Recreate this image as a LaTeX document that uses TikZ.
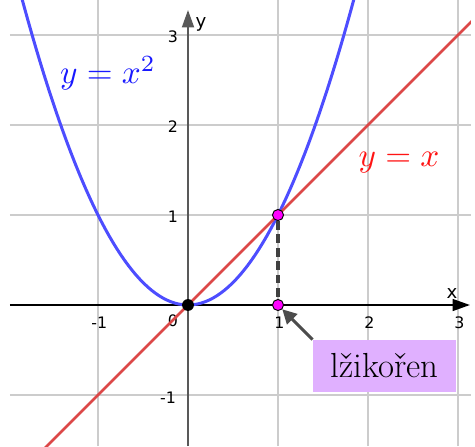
\documentclass[tikz,border=0pt]{standalone}
\usepackage{fontspec}
\usepackage{graphicx}
\usepackage{tikz}
\usetikzlibrary{positioning, arrows.meta}
\newfontfamily\ticksans{DejaVu Sans}
\definecolor{CurveBlue}{RGB}{77, 77, 255}
\definecolor{LineRed}{RGB}{220, 72, 72}
\definecolor{LabelBlue}{RGB}{25, 25, 255}
\definecolor{LabelRed}{RGB}{255, 20, 20}
\definecolor{GridGray}{RGB}{204, 204, 204}
\definecolor{NoteViolet}{RGB}{224, 176, 255}
\definecolor{PointMagenta}{RGB}{255, 0, 255}

\begin{document}
\begin{tikzpicture}[x=2cm, y=2cm,
      gridline/.style={GridGray, line width=0.9pt},
      axisline/.style={line width=1.1pt, -{Triangle[length=11pt, width=7.5pt]}},
      ticklbl/.style={font=\ticksans\fontsize{10}{11}\selectfont, inner sep=0pt},
      axislbl/.style={font=\ticksans\fontsize{11.5}{12}\selectfont, inner sep=0pt},
      curvelbl/.style={inner sep=0pt},
      magdot/.style={circle, draw=black, line width=0.6pt, fill=PointMagenta, minimum size=7pt, inner sep=0pt},
      origdot/.style={circle, fill=black, minimum size=7.5pt, inner sep=0pt},
      note/.style={rectangle, fill=NoteViolet, minimum width=3.18cm, minimum height=1.16cm,
      font=\fontsize{22}{24}\selectfont}
    ]
      \useasboundingbox (-2.0889,-1.5667) rectangle (3.1889,3.3889);
      \foreach \x in {-1,1,2,3} \draw[gridline] (\x,-1.5667) -- (\x,3.3889);
      \foreach \y in {-1,1,2,3} \draw[gridline] (-1.978,\y) -- (3.144,\y);

      \coordinate (xbeg) at (-1.978,0);
      \coordinate (xend) at (3.133,0);
      \coordinate (ybeg) at (0,-1.5667);
      \coordinate (yend) at (0,3.278);
      \draw[axisline, black] (xbeg) -- (xend);
      \draw[axisline, black!65, line width=1.4pt] (ybeg) -- (yend);

      \foreach \x in {-1,1,2,3} \node[ticklbl] (tx\x) at (\x+0.015,-0.2) {\x};
      \node[ticklbl] (t0) at (-0.167,-0.178) {0};
      \foreach \y in {1,2,3} \node[ticklbl] (ty\y) at (-0.167,\y-0.022) {\y};
      \node[ticklbl] (tym1) at (-0.222,-1.033) {-1};
      \node[axislbl] (xlbl) at (2.933,0.133) {x};
      \node[axislbl] (ylbl) at (0.144,3.122) {y};

      \begin{scope}
        \clip (-1.978,-1.5667) rectangle (3.144,3.3889);
        \draw[CurveBlue, line width=1.9pt, domain=-1.9:1.9, samples=90] plot (\x,{\x*\x});
        \draw[LineRed, line width=1.6pt] (-1.7,-1.7) -- (3.3,3.3);
      \end{scope}

      \node[curvelbl, LabelBlue] (sqlbl) at (-0.889,2.578) {\scalebox{2.1}{$y = x^2$}};
      \node[curvelbl, LabelRed] (idlbl) at (2.344,1.578) {\scalebox{2.1}{$y = x$}};

      \node[origdot] (orig) at (0,0) {};
      \node[magdot] (p11) at (1,1) {};
      \node[magdot] (p10) at (1,0) {};
      \draw[black!75, line width=2pt, dash pattern=on 5.5pt off 3pt] (p11) -- (p10);

      \node[note] (root) at (2.183,-0.678) {lžikořen};
      \draw[black!70, line width=2pt, -{Triangle[length=9pt, width=9pt]}] (root.north west) -- (p10);
    \end{tikzpicture}
\end{document}
